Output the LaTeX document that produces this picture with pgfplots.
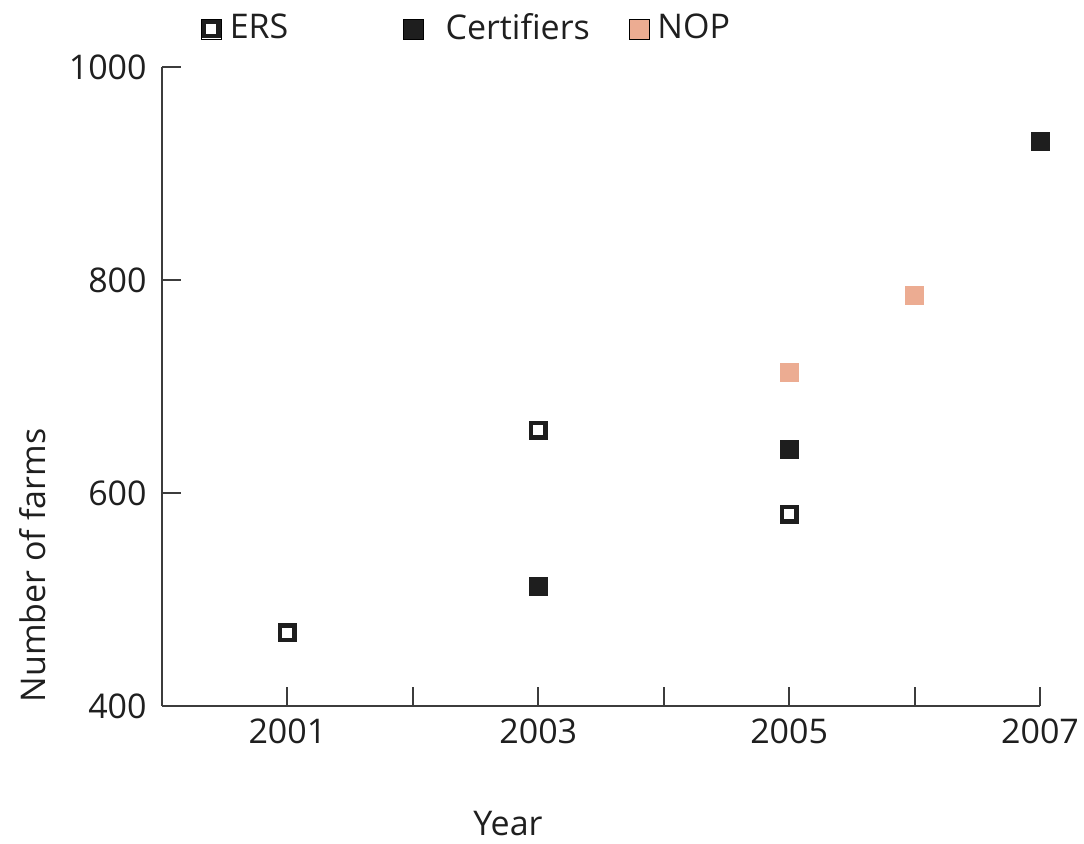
\documentclass[border=0pt]{standalone}
\usepackage{fontspec}
\setmainfont{Open Sans}
\usepackage{pgfplots}
\pgfplotsset{compat=1.18}
\definecolor{nop}{RGB}{236,172,146}
\definecolor{axisgray}{RGB}{60,60,60}
\definecolor{markblack}{RGB}{30,30,30}
\begin{document}
\fontsize{17}{20}\selectfont
\begin{tikzpicture}
\begin{axis}[
  scale only axis, width=439pt, height=319.5pt,
  xmin=2000, xmax=2007, ymin=400, ymax=1000,
  axis lines=left, axis line style={-, line width=1pt, axisgray},
  every tick/.style={line width=1pt, axisgray},
  tick align=inside, major tick length=9.5pt,
  xtick={2001,2002,2003,2004,2005,2006,2007},
  xticklabels={2001,,2003,,2005,,2007},
  ytick={400,600,800,1000},
  yticklabels={400,600,800,1000},
  xticklabel style={inner sep=0pt, yshift=-6pt, text=black!88},
  yticklabel style={inner sep=0pt, xshift=-7.5pt, text=black!88},
  xlabel={Year}, ylabel={Number of farms},
  xlabel style={at={(axis description cs:0.394,0)}, yshift=-59pt, anchor=center, text=black!88},
  ylabel style={at={(axis description cs:-0.147,0.22)}, anchor=center, text=black!88},
  clip=false,
  legend columns=3,
  legend image code/.code={\path (-5pt,-5pt) rectangle (5pt,5pt); \draw[#1] plot coordinates {(0pt,0pt)};},
  legend style={draw=none, fill=none, inner sep=0pt, outer sep=0pt,
    at={(axis description cs:0,1)}, anchor=west, xshift=19.5pt, yshift=19pt,
    nodes={inner sep=0pt, anchor=west, text=black!88},
    /tikz/every odd column/.append style={column sep=4pt},
    /tikz/every even column/.append style={column sep=0pt}},
]
\addplot[only marks, mark=square, mark size=3.6pt, mark options={line width=2.2pt, draw=markblack, fill=white}]
  coordinates {(2001,469) (2003,659) (2005,580)};
\addlegendentry{\makebox[86.5pt][l]{ERS}}
\addplot[only marks, mark=square*, mark size=4.5pt, mark options={line width=0.4pt, draw=markblack, fill=markblack}]
  coordinates {(2003,512) (2005,641) (2007,930)};
\addlegendentry{\makebox[98.5pt][l]{\hspace{7pt}Certifiers}}
\addplot[only marks, mark=square*, mark size=4.5pt, mark options={line width=0.4pt, draw=nop, fill=nop}]
  coordinates {(2005,713) (2006,786)};
\addlegendentry{\hspace{0pt}NOP}
\path (rel axis cs:0,0) coordinate (O);
\end{axis}
\pgfresetboundingbox
\path (O) ++(-81pt,-69pt) rectangle ++(542pt,422pt);
\end{tikzpicture}
\end{document}
